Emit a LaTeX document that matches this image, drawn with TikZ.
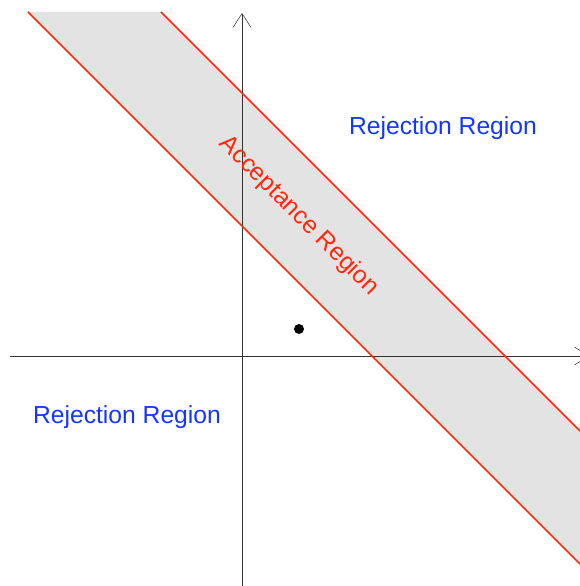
\documentclass[tikz,border=0pt]{standalone}
\usepackage{fontspec}
\setmainfont{Liberation Sans}
\usetikzlibrary{arrows.meta}
\definecolor{bandred}{RGB}{255,40,10}
\definecolor{regionblue}{RGB}{20,55,255}
\definecolor{bandgray}{RGB}{227,227,227}
\begin{document}
\begin{tikzpicture}[x=0.75pt, y=0.75pt, >={Straight Barb[length=10.5pt, width=13.5pt]},
    regiontext/.style={font=\fontsize{18.5}{22}\selectfont}]
    % Khung hình
    \useasboundingbox (-242, -230) rectangle (338, 356);
    \clip (-242, -230) rectangle (338, 356);

    % 1. Dải chấp nhận (tô xám)
    \fill[bandgray] (-214, 344) -- (-81, 344) -- (338, -75) -- (338, -207) -- cycle;

    % 2. Trục tọa độ
    \draw[->, black!80] (-232, 0) -- (347, 0);
    \draw[->, black!80] (0, -232) -- (0, 343);

    % 3. Hai đường biên của dải
    \draw[bandred, line width=1.3pt] (-214, 344) -- (338, -208);
    \draw[bandred, line width=1.3pt] (-81, 344) -- (338, -75);

    % 4. Điểm quan sát
    \fill[black] (57, 27) circle (5);

    % 5. Nhãn các miền
    \node[regiontext, regionblue] (rejUp) at (201, 228) {Rejection Region};
    \node[regiontext, regionblue] (rejLow) at (-115, -61) {Rejection Region};
    \node[regiontext, bandred, rotate=-45] (accept) at (57, 140) {Acceptance Region};

\end{tikzpicture}
\end{document}
